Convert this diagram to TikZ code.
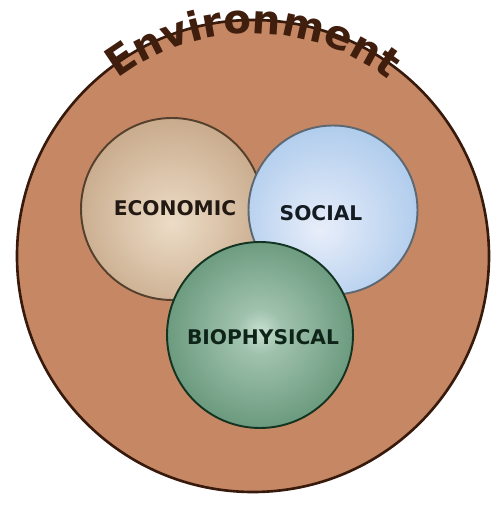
\documentclass[tikz,border=0pt]{standalone}
\usepackage{fontspec}
\setsansfont{DejaVu Sans}
\usepackage{tikz}
\usetikzlibrary{shapes}
\usetikzlibrary{decorations.text}
\definecolor{envfill}{RGB}{198,136,100}
\definecolor{envline}{RGB}{56,26,12}
\definecolor{envtext}{RGB}{64,30,14}
\definecolor{ecoIn}{RGB}{236,220,198}
\definecolor{ecoOut}{RGB}{170,128,90}
\definecolor{socIn}{RGB}{232,238,250}
\definecolor{socOut}{RGB}{132,178,226}
\definecolor{bioIn}{RGB}{200,224,208}
\definecolor{bioOut}{RGB}{40,104,68}
\pgfdeclareradialshading[ecoIn,ecoOut]{ecoshade}{\pgfpoint{0bp}{-4bp}}{%
  color(0bp)=(ecoIn); color(8bp)=(ecoIn!85!ecoOut); color(50bp)=(ecoOut)}
\pgfdeclareradialshading[socIn,socOut]{socshade}{\pgfpoint{-4bp}{-6bp}}{%
  color(0bp)=(socIn); color(10bp)=(socIn!80!socOut); color(50bp)=(socOut)}
\pgfdeclareradialshading[bioIn,bioOut]{bioshade}{\pgfpoint{0bp}{1bp}}{%
  color(0bp)=(bioIn); color(6bp)=(bioIn!75!bioOut); color(50bp)=(bioOut)}
\tikzstyle{sphere} = [circle,draw,line width=1.1pt,inner sep=0pt]
\tikzstyle{caption} = [font=\sffamily\bfseries\fontsize{11.5}{12}\selectfont,
inner sep=0pt]
\begin{document}
\begin{tikzpicture}
  \useasboundingbox (0,0) rectangle (9.96,10.10);
  \node[sphere,fill=envfill,draw=envline,line width=1.5pt,minimum size=9.44cm](env) at (5.06,4.98) {};
  \path[decorate,decoration={text along path,text align=center,
    text={|\sffamily\bfseries\fontsize{23}{23}\selectfont\color{envtext}|Environment}}]
    ([shift={(145:4.45)}]env.center) arc[start angle=145,end angle=35,radius=4.45];
  \node[sphere,shading=ecoshade,draw=ecoOut!50!black,minimum size=3.64cm](eco) at (3.44,5.92) {};
  \node[sphere,shading=socshade,draw=socOut!30!black!75,minimum size=3.38cm](soc) at (6.66,5.90) {};
  \node[sphere,shading=bioshade,draw=bioOut!50!black,minimum size=3.72cm](bio) at (5.20,3.40) {};
  \node[caption,text=ecoOut!20!black](eco-label) at (3.50,5.94) {ECONOMIC};
  \node[caption,text=socOut!15!black](soc-label) at (6.42,5.84) {SOCIAL};
  \node[caption,text=bioOut!35!black](bio-label) at (5.26,3.36) {BIOPHYSICAL};
\end{tikzpicture}
\end{document}
